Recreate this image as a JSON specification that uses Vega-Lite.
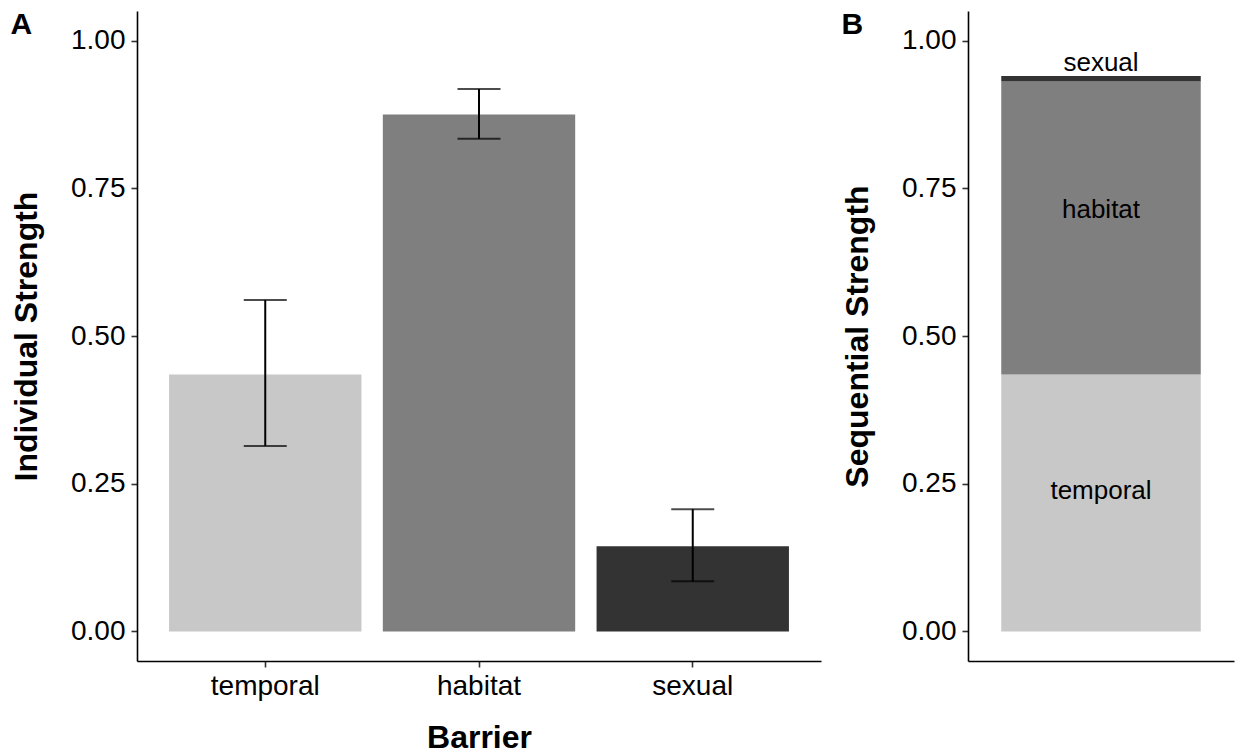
{
  "$schema": "https://vega.github.io/schema/vega-lite/v6.json",
  "padding": {"left": 10, "top": 10, "right": 8, "bottom": 4},
  "background": "white",
  "config": {
    "font": "Liberation Sans",
    "view": {"stroke": null},
    "axis": {
      "grid": false,
      "domainColor": "black",
      "domainWidth": 1.6,
      "tickColor": "#333333",
      "tickWidth": 1.6,
      "tickSize": 6,
      "labelColor": "black",
      "labelFont": "Liberation Sans",
      "labelFontSize": 28,
      "labelPadding": 6,
      "titleFont": "Liberation Sans",
      "titleFontSize": 32,
      "titleFontWeight": "bold",
      "titleColor": "black"
    },
    "concat": {"spacing": 20}
  },
  "hconcat": [
    {
      "width": 684,
      "height": 650,
      "title": {"text": "A", "anchor": "start", "frame": "bounds", "baseline": "top", "offset": 0, "dy": 29, "fontSize": 30, "fontWeight": "bold", "color": "black", "font": "Liberation Sans"},
      "data": {
        "values": [
          {"barrier": "temporal", "strength": 0.435, "lower": 0.314, "upper": 0.561},
          {"barrier": "habitat", "strength": 0.875, "lower": 0.834, "upper": 0.918},
          {"barrier": "sexual", "strength": 0.144, "lower": 0.085, "upper": 0.207}
        ]
      },
      "encoding": {
        "x": {
          "field": "barrier",
          "type": "nominal",
          "sort": ["temporal", "habitat", "sexual"],
          "scale": {"paddingInner": 0.1, "paddingOuter": 0.15},
          "axis": {"title": "Barrier", "labelAngle": 0, "labelPadding": 5, "titlePadding": 22}
        }
      },
      "layer": [
        {
          "mark": {"type": "bar"},
          "encoding": {
            "y": {
              "field": "strength",
              "type": "quantitative",
              "title": "Individual Strength",
              "scale": {"domain": [-0.05, 1.05], "nice": false, "zero": false},
              "axis": {"values": [0, 0.25, 0.5, 0.75, 1], "format": ".2f", "titlePadding": 27}
            },
            "y2": {"datum": 0},
            "color": {
              "field": "barrier",
              "type": "nominal",
              "scale": {"domain": ["temporal", "habitat", "sexual"], "range": ["#C8C8C8", "#7F7F7F", "#333333"]},
              "legend": null
            }
          }
        },
        {
          "mark": {"type": "rule", "color": "black", "strokeWidth": 2},
          "encoding": {
            "y": {"field": "lower", "type": "quantitative", "title": "Individual Strength"},
            "y2": {"field": "upper"}
          }
        },
        {
          "mark": {"type": "tick", "color": "black", "size": 43, "thickness": 2},
          "encoding": {
            "y": {"field": "upper", "type": "quantitative", "title": "Individual Strength"}
          }
        },
        {
          "mark": {"type": "tick", "color": "black", "size": 43, "thickness": 2},
          "encoding": {
            "y": {"field": "lower", "type": "quantitative", "title": "Individual Strength"}
          }
        }
      ]
    },
    {
      "width": 266,
      "height": 650,
      "title": {"text": "B", "anchor": "start", "frame": "bounds", "baseline": "top", "offset": 0, "dy": 29, "fontSize": 30, "fontWeight": "bold", "color": "black", "font": "Liberation Sans"},
      "data": {
        "values": [
          {"group": "all", "barrier": "temporal", "lo": 0, "hi": 0.435, "labelY": 0.237},
          {"group": "all", "barrier": "habitat", "lo": 0.435, "hi": 0.9305, "labelY": 0.714},
          {"group": "all", "barrier": "sexual", "lo": 0.9305, "hi": 0.9402, "labelY": 0.962}
        ]
      },
      "encoding": {
        "x": {
          "field": "group",
          "type": "nominal",
          "scale": {"paddingInner": 0.1, "paddingOuter": 0.15},
          "axis": {"title": null, "labels": false, "ticks": false}
        }
      },
      "layer": [
        {
          "mark": {"type": "bar"},
          "encoding": {
            "y": {
              "field": "lo",
              "type": "quantitative",
              "title": "Sequential Strength",
              "scale": {"domain": [-0.05, 1.05], "nice": false, "zero": false},
              "axis": {"values": [0, 0.25, 0.5, 0.75, 1], "format": ".2f", "titlePadding": 27}
            },
            "y2": {"field": "hi"},
            "color": {
              "field": "barrier",
              "type": "nominal",
              "scale": {"domain": ["temporal", "habitat", "sexual"], "range": ["#C8C8C8", "#7F7F7F", "#333333"]},
              "legend": null
            }
          }
        },
        {
          "mark": {"type": "text", "fontSize": 26, "color": "black", "baseline": "middle", "font": "Liberation Sans"},
          "encoding": {
            "y": {"field": "labelY", "type": "quantitative", "title": "Sequential Strength"},
            "text": {"field": "barrier"}
          }
        }
      ]
    }
  ]
}
